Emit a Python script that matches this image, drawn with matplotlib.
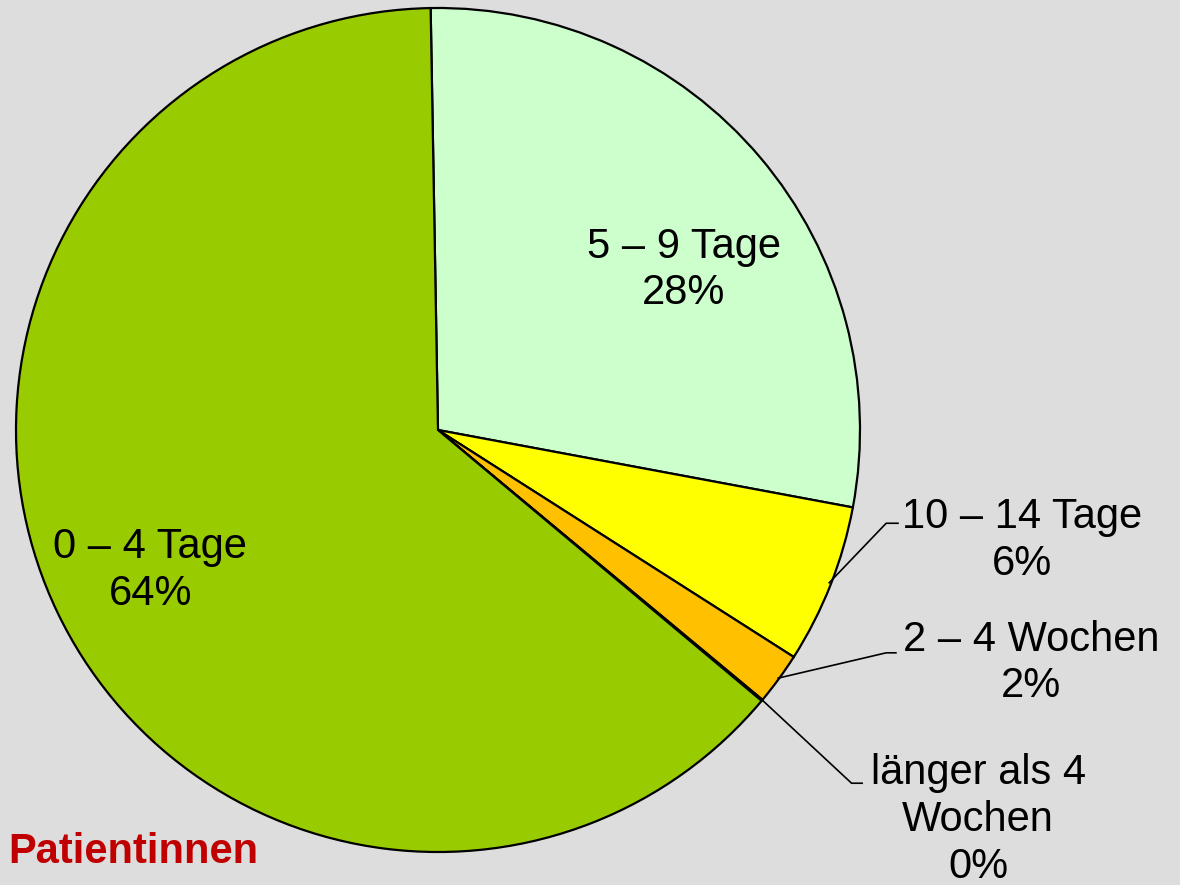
import matplotlib.pyplot as plt

# Verweildauer - Anteile (im Uhrzeigersinn ab 12 Uhr)
labels = ["5 – 9 Tage", "10 – 14 Tage", "2 – 4 Wochen", "länger als 4\nWochen", "0 – 4 Tage"]
values = [28.2, 6.1, 2.0, 0.05, 63.6]
pct_labels = ["28%", "6%", "2%", "0%", "64%"]
colors = ["#CCFFCC", "#FFFF00", "#FFC000", "#FF9900", "#99CC00"]

BG = "#DDDDDD"

fig = plt.figure(figsize=(11.8, 8.85), dpi=100, facecolor=BG)
# pie centre at (438, 430) px, radius 422 px
cx, cy, r = 438, 430, 422
ax = fig.add_axes([(cx - r) / 1180, (885 - cy - r) / 885, 2 * r / 1180, 2 * r / 885])
ax.set_facecolor(BG)

wedges, _ = ax.pie(values, colors=colors, startangle=91, counterclock=False, radius=1,
                   wedgeprops=dict(edgecolor="black", linewidth=1.6))
ax.set_xlim(-1, 1)
ax.set_ylim(-1, 1)
ax.set_aspect("equal")
ax.axis("off")

font = dict(family=["Liberation Sans", "DejaVu Sans"], fontsize=30, color="black")
LS = 1.22

# labels inside the big slices
ax.text(0.583, 0.379, f"{labels[0]}\n{pct_labels[0]}", ha="center", va="center",
        linespacing=LS, **font)
ax.text(-0.682, -0.332, f"{labels[4]}\n{pct_labels[4]}", ha="center", va="center",
        linespacing=LS, **font)

# outside labels with leader lines (edge point, elbow, end, text pos)
outside = [
    (1, (0.927, -0.362), (1.062, -0.221), (1.09, -0.221), (1.384, -0.261)),
    (2, (0.806, -0.588), (1.062, -0.528), (1.085, -0.528), (1.405, -0.552)),
    (3, (0.763, -0.635), (0.98, -0.837), (1.005, -0.837), (1.28, -0.924)),
]
for i, p0, p1, p2, tp in outside:
    ax.plot([p0[0], p1[0], p2[0]], [p0[1], p1[1], p2[1]], color="black",
            linewidth=1.2, clip_on=False)
    ax.text(tp[0], tp[1], f"{labels[i]}\n{pct_labels[i]}", ha="center", va="center",
            linespacing=LS, clip_on=False, **font)

fig.text(8 / 1180, 1 - 852 / 885, "Patientinnen", ha="left", va="center",
         fontsize=30, fontweight="bold", color="#C00000",
         family=["Liberation Sans", "DejaVu Sans"])

fig.savefig("out.png", dpi=100, facecolor=BG)
